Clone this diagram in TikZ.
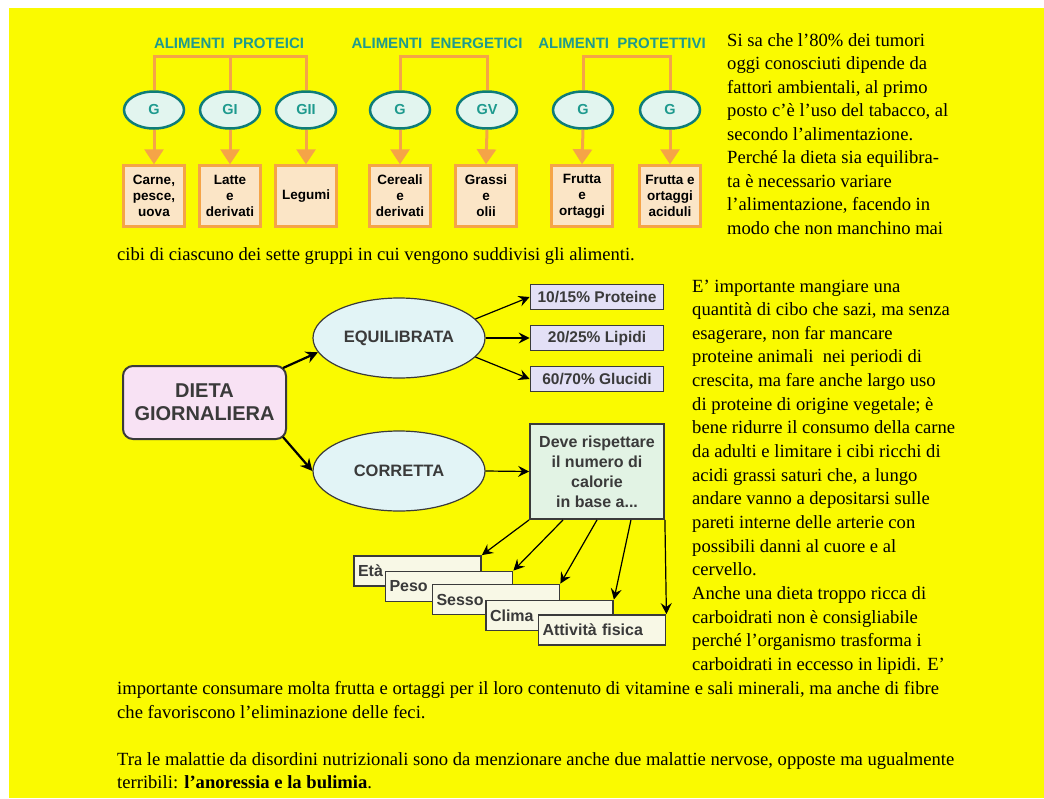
\documentclass[tikz,border=0pt]{standalone}
\usepackage{fontspec}
\setmainfont{Liberation Serif}
\setsansfont{Liberation Sans}
\usetikzlibrary{positioning,arrows.meta,shapes.geometric,calc}
\definecolor{giallo}{HTML}{FAFA00}
\definecolor{arancio}{HTML}{F5A447}
\definecolor{petrolio}{HTML}{0E7C78}
\definecolor{verdeacqua}{HTML}{1E9A8E}
\definecolor{celestino}{HTML}{E2F5EF}
\definecolor{crema}{HTML}{FBE5C6}
\definecolor{rosa}{HTML}{F8E2F4}
\definecolor{azzurrino}{HTML}{E2F4F6}
\definecolor{lilla}{HTML}{E3E0F6}
\definecolor{menta}{HTML}{E2F3E4}
\definecolor{avorio}{HTML}{F8F8E6}
\definecolor{grigioscuro}{HTML}{3A3A3A}

\tikzset{
  titolo/.style={font=\sffamily\bfseries\fontsize{15}{17}\selectfont, text=verdeacqua, inner sep=0pt},
  gruppo/.style={ellipse, draw=petrolio, line width=2.5pt, fill=celestino, minimum width=60pt, minimum height=37pt, inner sep=0pt, font=\sffamily\bfseries\fontsize{14.5}{16}\selectfont, text=verdeacqua},
  cibo/.style={rectangle, draw=arancio, line width=2.5pt, fill=crema, minimum width=61pt, minimum height=61pt, inner sep=0pt, align=center, font=\sffamily\bfseries\fontsize{13.5}{16}\selectfont},
  ramo/.style={draw=arancio, line width=3pt},
  discesa/.style={draw=arancio, line width=3pt, -{Triangle[length=15pt,width=19pt]}},
  radice/.style={rectangle, rounded corners=10pt, draw=grigioscuro, line width=2pt, fill=rosa, minimum width=163pt, minimum height=73pt, align=center, font=\sffamily\bfseries\fontsize{20}{23}\selectfont, text=grigioscuro},
  ovale/.style={ellipse, draw=grigioscuro, line width=1.2pt, fill=azzurrino, minimum width=172pt, minimum height=80pt, font=\sffamily\bfseries\fontsize{16.5}{18}\selectfont, text=grigioscuro},
  quota/.style={rectangle, draw=grigioscuro, line width=1.8pt, fill=lilla, minimum width=133pt, minimum height=25pt, inner sep=0pt, font=\sffamily\bfseries\fontsize{15.5}{17}\selectfont, text=grigioscuro},
  regola/.style={rectangle, draw=grigioscuro, line width=1.8pt, fill=menta, minimum width=134pt, minimum height=95pt, align=center, font=\sffamily\bfseries\fontsize{16}{20}\selectfont, text=grigioscuro},
  fattore/.style={rectangle, draw=grigioscuro, line width=1.8pt, fill=avorio, text width=119pt, inner xsep=4pt, minimum height=30pt, align=left, font=\sffamily\bfseries\fontsize{16}{17}\selectfont, text=grigioscuro},
  punta/.style={-{Stealth[length=11pt,width=11pt,inset=4pt]}, line width=1.2pt},
  puntagrossa/.style={-{Stealth[length=12pt,width=12pt,inset=4pt]}, line width=2.2pt},
  testo/.style={font=\fontsize{18.6}{22}\selectfont, inner sep=0pt, anchor=base west}
}

\begin{document}
\begin{tikzpicture}[x=1pt, y=-1pt]
  \useasboundingbox (0,0) rectangle (1044,798);
  % Sfondo
  \fill[white] (0,0) rectangle (1044,798);
  \fill[giallo] (9,8) rectangle (1044,798);

  % Titoli dei gruppi
  \node[titolo] (tprot) at (229,43) {ALIMENTI\ \ PROTEICI};
  \node[titolo] (tener) at (437,43) {ALIMENTI\ \ ENERGETICI};
  \node[titolo] (tprote) at (622,43) {ALIMENTI\ \ PROTETTIVI};
  \coordinate (sbarra) at (0,56);

  % Gruppi (ellissi)
  \node[gruppo] (p1) at (154,110) {G};
  \node[gruppo] (p2) at (230,110) {GI};
  \node[gruppo] (p3) at (306,110) {GII};
  \node[gruppo] (e1) at (400,110) {G};
  \node[gruppo] (e2) at (487,110) {GV};
  \node[gruppo] (t1) at (583,110) {G};
  \node[gruppo] (t2) at (670,110) {G};

  % Alimenti (riquadri)
  \node[cibo] (cp1) at (154,196) {Carne,\\pesce,\\uova};
  \node[cibo] (cp2) at (230,196) {Latte\\e\\derivati};
  \node[cibo] (cp3) at (306,196) {Legumi};
  \node[cibo] (ce1) at (400,196) {Cereali\\e\\derivati};
  \node[cibo] (ce2) at (486,196) {Grassi\\e\\olii};
  \node[cibo] (ct1) at (582,196) {Frutta\\e\\ortaggi};
  \node[cibo] (ct2) at (670,196) {Frutta e\\ortaggi\\aciduli};

  % Rami arancio
  \draw[ramo] (p1.north) -- (p1.north |- sbarra) -| (p3.north);
  \draw[ramo] (p2.north) -- (p2.north |- sbarra);
  \draw[ramo] (e1.north) -- (e1.north |- sbarra) -| (e2.north);
  \draw[ramo] (t1.north) -- (t1.north |- sbarra) -| (t2.north);
  \foreach \g/\c in {p1/cp1,p2/cp2,p3/cp3,e1/ce1,e2/ce2,t1/ct1,t2/ct2}
    \draw[discesa] (\g.south) -- (\c.north);

  % Dieta giornaliera
  \node[radice] (dieta) at (204.5,402.5) {DIETA\\GIORNALIERA};
  \node[ovale] (equi) at (399,338) {EQUILIBRATA};
  \node[ovale] (corr) at (399,471) {CORRETTA};
  \node[quota] (prot) at (597,297) {10/15\% Proteine};
  \node[quota] (lip) at (597,338) {20/25\% Lipidi};
  \node[quota] (gluc) at (597,379) {60/70\% Glucidi};
  \node[regola] (deve) at (597,471.5) {Deve rispettare\\il numero di\\calorie\\in base a...};

  % Fattori (riquadri sovrapposti)
  \node[fattore] (eta) at (417.5,571) {Età};
  \node[fattore] (peso) at (449,586.5) {Peso};
  \node[fattore] (sesso) at (496,599.5) {Sesso};
  \node[fattore] (clima) at (549.5,615.5) {Clima};
  \node[fattore] (attivita) at (602,630) {Attività fisica};

  % Frecce
  \draw[puntagrossa] ($(dieta.north east)+(-4,3)$) -- (equi.190);
  \draw[puntagrossa] ($(dieta.south east)+(-4,-3)$) -- (corr.west);
  \draw[punta] (equi.14) -- (prot.west);
  \draw[punta] (equi.east) -- (lip.west);
  \draw[punta] (equi.-14) -- (gluc.west);
  \draw[punta] (corr.east) -- (deve.west);
  \foreach \f/\b in {0/eta,0.25/peso,0.5/sesso,0.75/clima,1/attivita}
    \draw[punta] ($(deve.south west)!\f!(deve.south east)$) -- (\b.north east);

  % Testo in alto a destra
  \foreach \riga [count=\i from 0] in {{Si sa che l’80\% dei tumori},{oggi conosciuti dipende da},
    {fattori ambientali, al primo},{posto c’è l’uso del tabacco, al},{secondo l’alimentazione.},
    {Perché la dieta sia equilibra-},{ta è necessario variare},{l’alimentazione, facendo in},
    {modo che non manchino mai}}
    \node[testo] (a\i) at (727,{46+23.5*\i}) {\riga};
  \node[testo] (a9) at (117,260) {cibi di ciascuno dei sette gruppi in cui vengono suddivisi gli alimenti.};

  % Testo a destra del diagramma
  \foreach \riga [count=\i from 0] in {{E’ importante mangiare una},{quantità di cibo che sazi, ma senza},
    {esagerare, non far mancare},{proteine animali\ \ nei periodi di},{crescita, ma fare anche largo uso},
    {di proteine di origine vegetale; è},{bene ridurre il consumo della carne},
    {da adulti e limitare i cibi ricchi di},{acidi grassi saturi che, a lungo},
    {andare vanno a depositarsi sulle},{pareti interne delle arterie con},
    {possibili danni al cuore e al},{cervello.},{Anche una dieta troppo ricca di},
    {carboidrati non è consigliabile},{perché l’organismo trasforma i},
    {carboidrati in eccesso in lipidi. E’}}
    \node[testo] (b\i) at (692,{292+23.65*\i}) {\riga};

  % Testo in basso
  \node[testo] (c1) at (117,694) {importante consumare molta frutta e ortaggi per il loro contenuto di vitamine e sali minerali, ma anche di fibre};
  \node[testo] (c2) at (117,718) {che favoriscono l’eliminazione delle feci.};
  \node[testo] (c3) at (117,765) {Tra le malattie da disordini nutrizionali sono da menzionare anche due malattie nervose, opposte ma ugualmente};
  \node[testo] (c4) at (117,788) {terribili: \textbf{l’anoressia e la bulimia}.};
\end{tikzpicture}
\end{document}
